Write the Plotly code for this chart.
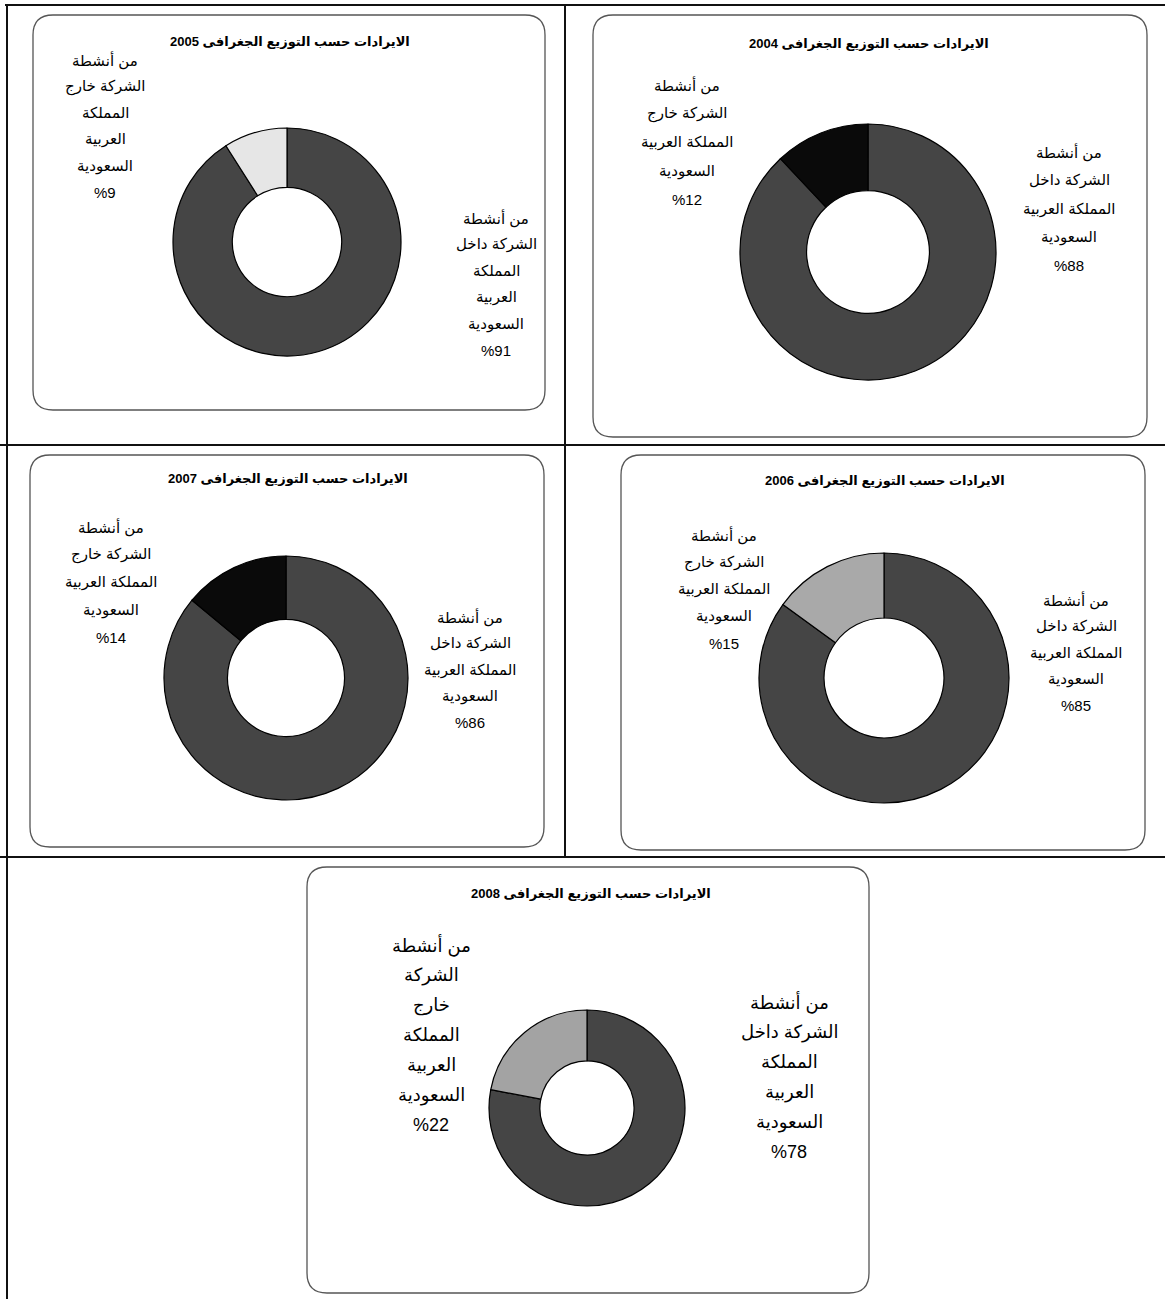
import plotly.graph_objects as go

W, H = 1165, 1299

# ---- data ----
years = ["2004", "2005", "2006", "2007", "2008"]
inside_pct = [88, 91, 85, 86, 78]     # من أنشطة الشركة داخل المملكة العربية السعودية
outside_pct = [12, 9, 15, 14, 22]     # من أنشطة الشركة خارج المملكة العربية السعودية
title_text = "الايرادات حسب التوزيع الجغرافى"

# label line wrapping per year (as in the reference)
outside_lines = {
    "2004": ["من أنشطة", "الشركة خارج", "المملكة العربية", "السعودية"],
    "2005": ["من أنشطة", "الشركة خارج", "المملكة", "العربية", "السعودية"],
    "2006": ["من أنشطة", "الشركة خارج", "المملكة العربية", "السعودية"],
    "2007": ["من أنشطة", "الشركة خارج", "المملكة العربية", "السعودية"],
    "2008": ["من أنشطة", "الشركة", "خارج", "المملكة", "العربية", "السعودية"],
}
inside_lines = {
    "2004": ["من أنشطة", "الشركة داخل", "المملكة العربية", "السعودية"],
    "2005": ["من أنشطة", "الشركة داخل", "المملكة", "العربية", "السعودية"],
    "2006": ["من أنشطة", "الشركة داخل", "المملكة العربية", "السعودية"],
    "2007": ["من أنشطة", "الشركة داخل", "المملكة العربية", "السعودية"],
    "2008": ["من أنشطة", "الشركة داخل", "المملكة", "العربية", "السعودية"],
}

# ---- styling / layout (pixels) ----
inside_color = "#454545"
outside_colors = {"2004": "#0a0a0a", "2005": "#e6e6e6", "2006": "#a9a9a9",
                  "2007": "#0a0a0a", "2008": "#a3a3a3"}
panel = {
    "2005": dict(box=(33, 545, 15, 410), donut=(287, 242, 114), title=(290, 41),
                 out=(105, 60, 26.4), ins=(496, 218, 26.4), fs=15),
    "2004": dict(box=(593, 1147, 15, 437), donut=(868, 252, 128), title=(869, 43),
                 out=(687, 85, 28.7), ins=(1069, 152, 28.3), fs=15),
    "2007": dict(box=(30, 544, 455, 847), donut=(286, 678, 122), title=(288, 478),
                 out=(111, 527, 27.5), ins=(470, 617, 26.3), fs=15),
    "2006": dict(box=(621, 1145, 455, 850), donut=(884, 678, 125), title=(885, 480),
                 out=(724, 535, 27.0), ins=(1076, 600, 26.3), fs=15),
    "2008": dict(box=(307, 869, 867, 1293), donut=(587, 1108, 98), title=(591, 893),
                 out=(431, 945, 30.0), ins=(789, 1002, 30.0), fs=18),
}

FONT = "Liberation Sans, DejaVu Sans, Arial, sans-serif"
RLE, PDF = "\u202b", "\u202c"

fig = go.Figure()
annotations = []
shapes = []


def rounded_rect(x0, x1, y0, y1, r=20):
    return (f"M {x0+r},{y0} L {x1-r},{y0} Q {x1},{y0} {x1},{y0+r} "
            f"L {x1},{y1-r} Q {x1},{y1} {x1-r},{y1} L {x0+r},{y1} "
            f"Q {x0},{y1} {x0},{y1-r} L {x0},{y0+r} Q {x0},{y0} {x0+r},{y0} Z")


for i, yr in enumerate(years):
    p = panel[yr]
    cx, cy, r = p["donut"]
    fig.add_trace(go.Pie(
        values=[inside_pct[i], outside_pct[i]],
        labels=["داخل", "خارج"],
        sort=False, direction="clockwise", rotation=0,
        hole=0.48, textinfo="none", hoverinfo="skip", showlegend=False,
        marker=dict(colors=[inside_color, outside_colors[yr]],
                    line=dict(color="#000000", width=1.2)),
        domain=dict(x=[(cx - r) / W, (cx + r) / W],
                    y=[1 - (cy + r) / H, 1 - (cy - r) / H]),
    ))
    bx0, bx1, by0, by1 = p["box"]
    shapes.append(dict(type="path", xref="x", yref="y",
                       path=rounded_rect(bx0, bx1, by0, by1),
                       line=dict(color="#555555", width=1.3), layer="below"))
    tx, ty = p["title"]
    annotations.append(dict(x=tx, y=ty, xref="x", yref="y", showarrow=False,
                            text=f"<b>{RLE}{title_text} {yr}{PDF}</b>",
                            font=dict(family=FONT, size=13, color="#000"),
                            xanchor="center", yanchor="middle"))
    fs = p["fs"]
    for key, lines, pct in (("out", outside_lines[yr], outside_pct[i]),
                            ("ins", inside_lines[yr], inside_pct[i])):
        lx, ly0, dy = p[key]
        all_lines = lines + [f"%{pct}"]
        for k, t in enumerate(all_lines):
            annotations.append(dict(x=lx, y=ly0 + k * dy, xref="x", yref="y",
                                    showarrow=False, text=t,
                                    font=dict(family=FONT, size=fs, color="#000"),
                                    xanchor="center", yanchor="middle"))

# page grid lines
grid = [
    (5, 5, 1165, 5),
    (7, 5, 7, 1299),
    (565, 5, 565, 857),
    (0, 445, 1165, 445),
    (0, 857, 1165, 857),
]
for x0, y0, x1, y1 in grid:
    shapes.append(dict(type="line", xref="x", yref="y", x0=x0, y0=y0, x1=x1, y1=y1,
                       line=dict(color="#111111", width=2), layer="below"))

fig.update_layout(
    width=W, height=H,
    margin=dict(l=0, r=0, t=0, b=0),
    paper_bgcolor="white", plot_bgcolor="white",
    xaxis=dict(range=[0, W], visible=False, fixedrange=True, domain=[0, 1]),
    yaxis=dict(range=[H, 0], visible=False, fixedrange=True, domain=[0, 1]),
    shapes=shapes,
    annotations=annotations,
)

fig.write_html("out.html",
               config={"displayModeBar": False},
               post_script="document.body.style.margin='0';document.body.style.overflow='hidden';")
